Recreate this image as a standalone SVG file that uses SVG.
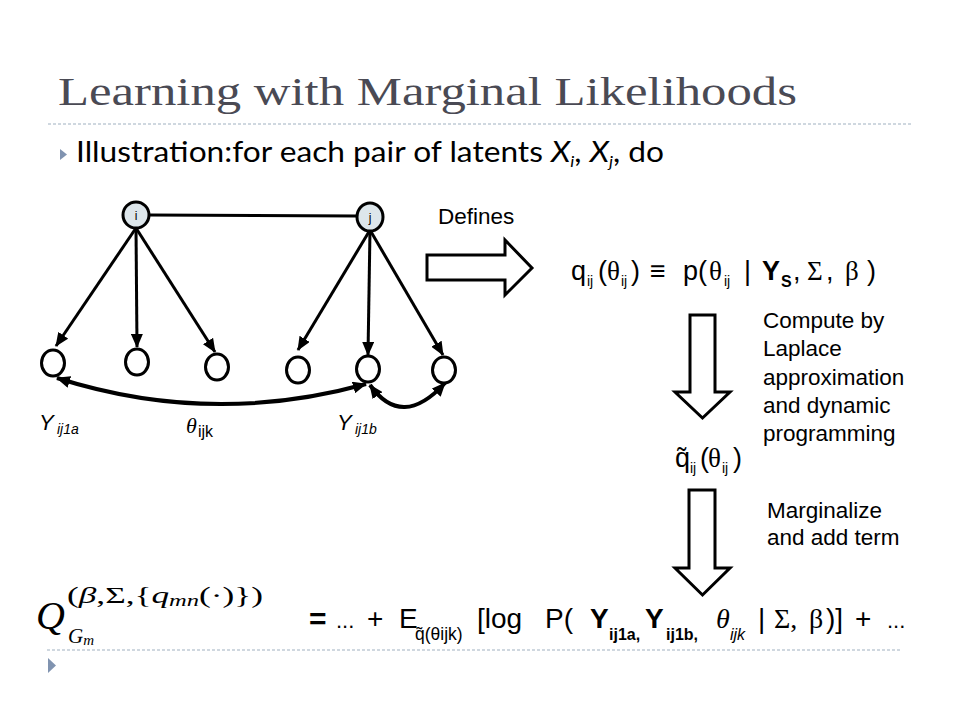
<svg xmlns="http://www.w3.org/2000/svg" width="960" height="720" viewBox="0 0 960 720">
<defs>
<style>
.title{font-family:"Liberation Serif","Times New Roman",serif;font-size:40px;fill:#4a4a54}
.sub{font-family:Lato,"Open Sans",sans-serif;font-size:29px;fill:#000}
.lbl{font-family:"Liberation Sans",Arial,sans-serif;fill:#000}
.ser{font-family:"Liberation Serif","Times New Roman",serif;fill:#000}
.edge{stroke:#000;stroke-width:3;fill:none}
.curve{stroke:#000;stroke-width:4;fill:none}
.obs{fill:#fff;stroke:#000;stroke-width:3}
.lat{fill:#dde6eb;stroke:#000;stroke-width:3}
.block{fill:#fff;stroke:#000;stroke-width:3;stroke-linejoin:miter}
.dot{stroke:#9fb0c0;stroke-width:1;stroke-dasharray:3 2}
.bul{fill:#8093b0}
</style>
<marker id="ah" viewBox="0 0 14 12" refX="13" refY="6" markerWidth="14" markerHeight="12" markerUnits="userSpaceOnUse" orient="auto-start-reverse">
<path d="M0,0 L14,6 L0,12 z" fill="#000"/>
</marker>
</defs>
<rect width="960" height="720" fill="#fff"/>

<text class="title" x="58" y="105" textLength="739" lengthAdjust="spacingAndGlyphs">Learning with Marginal Likelihoods</text>
<line class="dot" x1="48" y1="124" x2="912" y2="124"/>
<path class="bul" d="M60,149 L67,154.5 L60,160 z"/>
<text class="sub" x="76" y="162" textLength="588" lengthAdjust="spacingAndGlyphs">Illustration:for each pair of latents <tspan font-style="italic">X</tspan><tspan font-size="16" dy="5" font-style="italic">i</tspan><tspan dy="-5">, </tspan><tspan font-style="italic">X</tspan><tspan font-size="16" dy="5" font-style="italic">j</tspan><tspan dy="-5">, do</tspan></text>

<g id="connectors">
<line class="edge" x1="149" y1="215" x2="357" y2="216"/>
<line class="edge" x1="136" y1="228" x2="56" y2="346" marker-end="url(#ah)"/>
<line class="edge" x1="136" y1="228" x2="137" y2="347" marker-end="url(#ah)"/>
<line class="edge" x1="136" y1="228" x2="215" y2="352" marker-end="url(#ah)"/>
<line class="edge" x1="370" y1="230" x2="298" y2="350" marker-end="url(#ah)"/>
<line class="edge" x1="370" y1="230" x2="368" y2="355" marker-end="url(#ah)"/>
<line class="edge" x1="370" y1="230" x2="443" y2="355" marker-end="url(#ah)"/>
<path class="curve" d="M57,378 Q211,427 366,384" marker-start="url(#ah)" marker-end="url(#ah)"/>
<path class="curve" d="M370,385 Q402,430 445,383" marker-start="url(#ah)" marker-end="url(#ah)"/>
</g>

<g id="node-i"><circle class="lat" cx="136" cy="215" r="13"/><text class="lbl" x="136" y="219.5" font-size="12" text-anchor="middle">i</text></g>
<g id="node-j"><ellipse class="lat" cx="370" cy="217" rx="13" ry="14"/><text class="lbl" x="370" y="222" font-size="12" text-anchor="middle">j</text></g>
<g id="node-y1"><ellipse class="obs" cx="53" cy="363" rx="11.5" ry="13"/></g>
<g id="node-y2"><ellipse class="obs" cx="137" cy="362" rx="11.5" ry="13"/></g>
<g id="node-y3"><ellipse class="obs" cx="217" cy="367" rx="11.5" ry="13"/></g>
<g id="node-y4"><ellipse class="obs" cx="298" cy="370" rx="11.5" ry="13"/></g>
<g id="node-y5"><ellipse class="obs" cx="368" cy="369" rx="11.5" ry="13"/></g>
<g id="node-y6"><ellipse class="obs" cx="444" cy="370" rx="11.5" ry="13"/></g>

<g id="labels">
<text class="lbl" x="39" y="430" font-size="22" font-style="italic">Y<tspan x="57" y="434" font-size="14">ij1a</tspan></text>
<text class="ser" x="186" y="433" font-size="22" font-style="italic">θ<tspan class="lbl" x="198" y="437" font-size="16" font-style="normal">ijk</tspan></text>
<text class="lbl" x="337" y="430" font-size="22" font-style="italic">Y<tspan x="355" y="434" font-size="14">ij1b</tspan></text>
</g>

<g id="defines">
<text class="lbl" x="438" y="224" font-size="22.5">Defines</text>
<path class="block" d="M427,255 L505,255 L505,240 L532,268 L505,295 L505,280 L427,280 z"/>
</g>

<g id="qdef">
<text class="lbl" y="280" font-size="27"><tspan x="571">q</tspan><tspan x="587" y="286" font-size="14">ij</tspan><tspan x="598" y="280">(</tspan><tspan class="ser" x="607">θ</tspan><tspan x="621" y="286" font-size="14">ij</tspan><tspan x="631" y="280">)</tspan><tspan x="650">≡</tspan><tspan x="683">p(</tspan><tspan class="ser" x="709">θ</tspan><tspan x="724" y="286" font-size="14">ij</tspan><tspan x="744" y="280">|</tspan><tspan x="762" font-weight="bold">Y</tspan><tspan x="781" y="287" font-size="16" font-weight="bold">S</tspan><tspan x="793" y="280">,</tspan><tspan class="ser" x="807">Σ</tspan><tspan x="826">,</tspan><tspan class="ser" x="845">β</tspan><tspan x="867">)</tspan></text>
</g>

<g id="compute">
<path class="block" d="M690,315 L715,315 L715,392 L730,392 L702.5,418 L675,392 L690,392 z"/>
<text class="lbl" font-size="22.5"><tspan x="763" y="328">Compute by</tspan><tspan x="763" y="356">Laplace</tspan><tspan x="763" y="385">approximation</tspan><tspan x="763" y="413">and dynamic</tspan><tspan x="763" y="441">programming</tspan></text>
</g>

<g id="qtilde">
<text class="lbl" font-size="27" y="467"><tspan x="675">q̃</tspan><tspan x="690" y="473" font-size="14">ij</tspan><tspan x="700" y="467">(</tspan><tspan class="ser" x="708">θ</tspan><tspan x="722" y="473" font-size="14">ij</tspan><tspan x="733" y="467">)</tspan></text>
</g>

<g id="marginalize">
<path class="block" d="M689,490 L715,490 L715,568 L730,568 L702.5,595 L675,568 L689,568 z"/>
<text class="lbl" font-size="22.5"><tspan x="767" y="518">Marginalize</tspan><tspan x="767" y="545">and add term</tspan></text>
</g>

<g id="objective">
<text class="ser" x="36" y="629" font-size="40" font-style="italic" fill="#222">Q</text>
<text class="ser" x="67" y="603" font-size="23" fill="#222" textLength="196" lengthAdjust="spacingAndGlyphs">(<tspan font-style="italic">β</tspan>,Σ,{<tspan font-style="italic">q</tspan><tspan font-size="16" dy="3" font-style="italic">mn</tspan><tspan dy="-3">(·)})</tspan></text>
<text class="ser" x="68" y="643" font-size="21" font-style="italic" fill="#222">G<tspan font-size="15" dy="2">m</tspan></text>
<text class="lbl" x="309" y="629" font-size="30" fill="#444" font-weight="bold">=</text>
<text class="lbl" y="628" font-size="28"><tspan x="336" font-size="22">...</tspan><tspan x="367">+</tspan><tspan x="399">E</tspan><tspan x="415" y="640" font-size="17.5">q̃(θijk)</tspan><tspan x="477" y="628">[log</tspan><tspan x="545">P(</tspan><tspan x="590" font-weight="bold">Y</tspan><tspan x="609" y="640" font-size="16" font-weight="bold">ij1a,</tspan><tspan x="645" y="628" font-weight="bold">Y</tspan><tspan x="666" y="640" font-size="16" font-weight="bold">ij1b,</tspan><tspan class="ser" x="716" y="628" font-style="italic">θ</tspan><tspan x="730" y="640" font-size="16" font-style="italic">ijk</tspan><tspan x="758" y="628">|</tspan><tspan class="ser" x="774">Σ,</tspan><tspan class="ser" x="809">β</tspan><tspan x="826">)]</tspan><tspan x="855">+</tspan><tspan x="887" font-size="22">...</tspan></text>
<line class="dot" x1="47" y1="650" x2="900" y2="650"/>
<path class="bul" d="M48,658 L56,665.5 L48,673 z"/>
</g>
</svg>
